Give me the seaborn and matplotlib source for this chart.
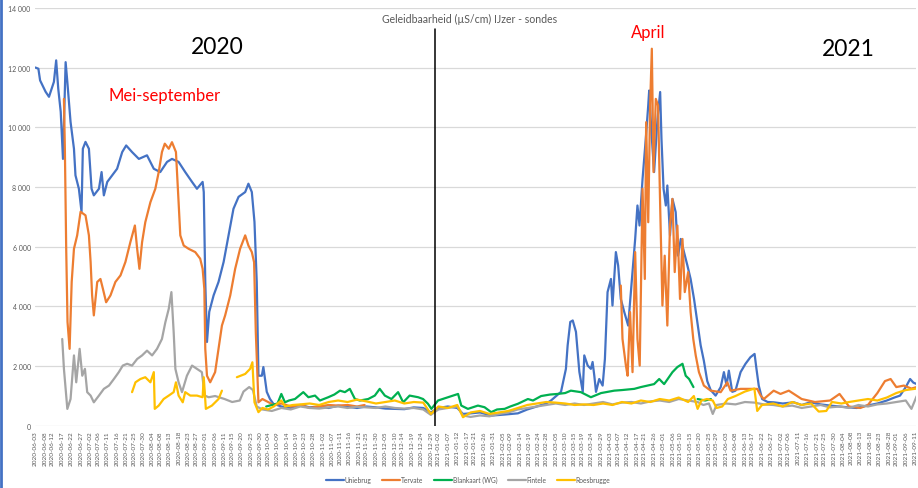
import numpy as np
import pandas as pd
import seaborn as sns
import matplotlib.pyplot as plt
from matplotlib.lines import Line2D

nan = np.nan
START = pd.Timestamp("2020-06-03")
SERIES = ["Uniebrug", "Tervate", "Blankaart (WG)", "Fintele", "Roesbrugge"]
COLORS = ["#4472C4", "#ED7D31", "#00B050", "#A5A5A5", "#FFC000"]

# ---- data (days since 2020-06-03, conductivity µS/cm) ----
uniebrug_days = [0, 1.6, 2.5, 5.4, 7.2, 9.8, 11, 12.1, 13.4, 14.6, 16, 16.9, 18.6, 20.4, 21.2, 23, 24.4, 25.1,
                 26.5, 28.3, 29.7, 30.9, 33.6, 35, 36.2, 38, 40.6, 43.2, 45.9, 48, 51.1, 54.7, 59, 62.6, 66,
                 69.6, 72.2, 75.7, 79.2, 82.8, 85.4, 88.4, 89, 89.8, 90.7, 91.9, 94.2, 96.8, 99.5, 102.1,
                 104.7, 107.4, 110.9, 112.6, 114.4, 115.8, 117, 117.9, 119.7, 120.5, 122.3, 124, 125.8,
                 130, 135, 140, 145, 150, 155, 160, 165, 170, 175, 180, 185, 190, 195, 200, 205, 209, 213,
                 218, 223, 226, 230, 235, 241, 248, 255, 260, 265, 270, 272.5, 277.8, 280.4, 281.3, 282.7,
                 284, 285.7, 287.5, 289.3, 290.1, 291.9, 293.6, 294.5, 295.4, 296.3, 298, 299.8, 301, 302.4,
                 304.2, 305, 306.8, 308, 309.4, 311.2, 313.3, 315.6, 317, 318.2, 319.3, 320.9, 322.6, 323.9,
                 324.4, 325.6, 327, 328.8, 330.2, 330.9, 332, 333.2, 334, 335.4, 336.7, 338.4, 339.7, 341.1,
                 342.8, 344.6, 346.3, 348.1, 349.8, 351.6, 353.3, 355.1, 356.9, 359.5, 362.2, 363.9, 365.3,
                 366.5, 368.3, 370, 372.7, 375.3, 377.9, 380.1, 381.1, 382.3, 384.1, 387, 390.2, 395, 400.8,
                 405, 409.6, 415, 420.1, 425, 428.9, 434, 439.5, 445, 450, 454, 457, 460, 462.3, 464, 465.8]
uniebrug_vals = [12000, 11960, 11570, 11190, 11020, 11520, 12240, 11290, 10520, 8940, 12180, 11520, 10180, 9280,
                 8390, 7940, 7170, 9280, 9510, 9280, 7940, 7720, 7940, 8500, 7720, 8170, 8390, 8610, 9170,
                 9390, 9170, 8940, 9060, 8610, 8500, 8840, 8940, 8840, 8500, 8170, 7940, 8170, 7830, 4820,
                 2810, 3820, 4370, 4820, 5490, 6380, 7270, 7670, 7830, 8110, 7830, 6830, 4820, 1680, 1680,
                 1970, 1140, 900, 740, 650, 600, 700, 620, 650, 600, 680, 640, 600, 650, 620, 580, 570, 560,
                 620, 600, 450, 600, 650, 600, 400, 420, 450, 345, 380, 420, 550, 650, 750, 850, 1140, 1910,
                 2690, 3480, 3530, 3150, 1810, 1140, 2360, 2020, 1910, 2140, 1680, 1140, 1570, 1350, 2240,
                 4480, 4920, 4030, 5820, 5370, 4250, 3820, 3360, 5160, 6260, 7380, 6710, 8270, 9610, 10730,
                 11230, 9840, 8500, 10280, 11180, 9610, 7940, 7380, 8050, 6380, 7600, 7160, 5700, 6260, 5820,
                 5370, 4920, 4250, 3500, 2700, 2180, 1500, 1200, 1015, 1300, 1800, 1350, 1850, 1140, 1180,
                 1800, 2080, 2300, 2410, 1910, 1350, 900, 800, 790, 750, 790, 700, 790, 720, 680, 650, 625,
                 600, 680, 750, 850, 950, 1015, 1300, 1570, 1450, 1400]

tervate_days = [15.1, 15.6, 16.3, 17, 18.1, 19.2, 20.4, 22.1, 23.9, 26.5, 28.3, 29.2, 30, 30.9, 32.7, 34.4, 35.7,
                37.4, 39.7, 42.3, 45, 47.6, 50.2, 52.6, 53.8, 55, 56.4, 58.1, 60.8, 63.4, 65.2, 66.9, 68.4,
                70.5, 72.2, 74.3, 75.7, 76.6, 78.4, 81, 84.5, 87.1, 88.4, 89.3, 89.8, 90.7, 92.4, 95, 96.8,
                98.6, 100.3, 103, 105.6, 108.2, 110.9, 112.6, 114.4, 115.6, 116.5, 117.9, 120, 123, 126, 130,
                135, 140, 145, 150, 155, 160, 165, 170, 174, 200, 309.4, 310.3, 312.1, 313, 314.3, 315.6, 317,
                318.2, 319.4, 320.9, 322.1, 322.8, 323.9, 324.9, 325.8, 326.7, 327.9, 329.1, 330.2, 331.4,
                332.6, 334, 335.4, 336.7, 337.9, 339.3, 340.7, 342, 343.2, 345, 346.3, 347.7, 349, 350.7,
                353.3, 356.9, 362.2, 365.7, 367.4, 372.7, 381.5, 383.3, 385, 390.2, 393.8, 398.2, 405, 412,
                420, 425, 430, 436, 440, 445, 449, 452, 455, 459, 463, 465.8]
tervate_vals = [10950, 9280, 5930, 3480, 2580, 4820, 5930, 6380, 7170, 7050, 6380, 5490, 4370, 3700, 4820, 4920,
                4590, 4140, 4370, 4820, 5040, 5490, 6150, 6710, 5930, 5260, 6150, 6820, 7490, 7940, 8500, 9170,
                9450, 9280, 9500, 9170, 7490, 6380, 6040, 5930, 5820, 5600, 5260, 4590, 2580, 1680, 1460, 1800,
                2580, 3360, 3700, 4370, 5260, 5930, 6380, 6040, 5820, 5480, 3140, 790, 900, 800, 700, 750,
                650, 700, 600, 650, 700, 680, 700, 650, 700, nan, 4700, 2910, 2020, 1680, 3810, 1800, 5820,
                2910, 2020, 7940, 4920, 10170, 6820, 10730, 12630, 8500, 10950, 10730, 7380, 4030, 5700,
                3360, 6710, 7600, 5150, 6710, 4250, 6260, 4480, 5150, 3810, 2910, 2360, 1800, 1350, 1180,
                1130, 1460, 1180, 1240, 1240, 1015, 900, 1180, 1070, 1180, 900, 800, 850, 1070, 650, 600,
                700, 1100, 1500, 1570, 1300, 1350, 1250, 1300]

blankaart_days = [122, 125, 128, 130, 131.9, 134, 137.2, 141.6, 144.3, 147.8, 150.4, 154.8, 158, 161, 163.6,
                  166.2, 168.9, 171.5, 175.9, 179.4, 182, 184.7, 188.2, 191.7, 194.4, 197.8, 202.3, 204.9,
                  207.5, 209.3, 212.8, 218.1, 223.4, 225.1, 228.6, 233.9, 237.4, 240.9, 244, 248, 251, 255,
                  260.3, 263, 267.3, 272, 276, 280, 283, 288.3, 293.6, 299, 305.9, 310, 316.5, 320, 323.5,
                  327, 329.7, 332.3, 336.7, 339.3, 342, 343.7, 345.5, 347.8, 349, 350, 354, 357]
blankaart_vals = [650, 700, 750, 1070, 790, 850, 900, 1130, 960, 1015, 850, 960, 1050, 1180, 1130, 1240, 900,
                  850, 900, 1015, 1240, 1015, 900, 1130, 790, 1015, 960, 900, 740, 570, 850, 960, 1070, 680,
                  570, 680, 625, 460, 550, 570, 650, 740, 900, 850, 1000, 1050, 1070, 1100, 1180, 1130, 960,
                  1100, 1180, 1200, 1240, 1300, 1350, 1400, 1570, 1400, 1800, 1970, 2080, 1680, 1570, 1300,
                  nan, 900, 850, 900]

fintele_days = [14.2, 15.1, 16, 16.9, 18.6, 20.4, 21.6, 23.4, 24.8, 26.2, 27.4, 29.2, 30.9, 33.6, 36.2, 38.9,
                41.5, 44.1, 46.2, 48.5, 51.1, 53.8, 56.4, 59, 61.7, 64.3, 66.9, 68.7, 70.5, 71.9, 73.1, 74,
                75.7, 77.5, 80.1, 82.8, 85.4, 88, 89.5, 91.6, 95, 100, 104, 108, 110, 113, 115, 117, 120, 125,
                130, 135, 140, 145, 150, 155, 160, 165, 170, 175, 180, 185, 190, 195, 200, 205, 209, 213, 218,
                223, 226, 230, 235, 240, 245, 250, 255, 260, 265, 270, 275, 280, 285, 290, 295, 300, 305, 310,
                315, 320, 325, 330, 335, 340, 345, 350, 353, 356, 358, 360, 365, 370, 375, 380, 385, 390, 395,
                400, 405, 410, 415, 420, 425, 430, 435, 440, 445, 450, 455, 460, 463, 465.8]
fintele_vals = [2910, 1910, 1240, 570, 900, 2360, 1460, 2580, 1680, 1910, 1130, 1015, 790, 1015, 1240, 1350,
                1570, 1800, 2020, 2080, 2020, 2240, 2360, 2520, 2360, 2580, 2910, 3470, 3920, 4480, 3140, 1910,
                1460, 1130, 1680, 2020, 1910, 1800, 1015, 960, 1000, 900, 800, 850, 1150, 1300, 1200, 650, 550,
                500, 600, 550, 650, 600, 580, 620, 650, 600, 640, 620, 600, 650, 600, 580, 600, 550, 370, 550,
                600, 650, 350, 300, 350, 320, 400, 450, 550, 600, 650, 700, 750, 700, 750, 700, 750, 800, 720,
                780, 800, 750, 820, 850, 800, 900, 850, 800, 700, 750, 400, 700, 750, 720, 800, 780, 720, 700,
                650, 680, 600, 650, 700, 620, 650, 600, 700, 650, 720, 750, 800, 850, 570, 1000]

roesbrugge_days = [51.1, 52.9, 55.5, 58.1, 60.8, 62.6, 63.1, 65.2, 67.8, 70.5, 73.1, 74.3, 75.7, 77.9, 79.2, 81.9,
                   85.4, 88.4, 89, 90.1, 93.3, 96.8, 98.6, 100, 106.5, 110.9, 113.5, 114.7, 115.8, 117.9, 120,
                   123, 126, 130, 132, 136, 140, 145, 150, 155, 160, 165, 170, 175, 180, 185, 190, 195, 200,
                   205, 209, 213, 218, 223, 226, 230, 235, 240, 245, 250, 255, 260, 265, 270, 275, 280, 285,
                   290, 295, 300, 305, 310, 315, 320, 325, 330, 335, 340, 345, 348, 350, 352, 355, 358, 360,
                   363, 366, 370, 375, 380, 381.5, 384, 390, 395, 400, 405, 410, 414, 418, 421, 426, 430, 435,
                   440, 445, 450, 455, 460, 465.8]
roesbrugge_vals = [1130, 1460, 1570, 1630, 1460, 1800, 570, 680, 900, 1015, 1130, 1460, 1015, 790, 1130, 1015,
                   1015, 960, 1630, 570, 680, 900, 1180, nan, 1630, 1740, 1910, 2130, 790, 460, 600, 550, 650,
                   850, 650, 700, 720, 750, 700, 800, 850, 800, 880, 820, 750, 800, 850, 750, 800, 780, 400,
                   650, 600, 700, 290, 450, 500, 400, 450, 500, 600, 700, 750, 800, 780, 750, 700, 720, 700,
                   750, 700, 800, 750, 850, 800, 900, 850, 950, 800, 1000, 570, 850, 900, 850, 600, 650, 900,
                   1000, 1150, 1250, 500, 700, 750, 650, 800, 700, 750, 480, 500, 800, 750, 800, 850, 900, 850,
                   950, 1100, 1200, 1250]

x_tick_labels = [
    "2020-06-03", "2020-06-08", "2020-06-12", "2020-06-17", "2020-06-22", "2020-06-27", "2020-07-02",
    "2020-07-06", "2020-07-11", "2020-07-16", "2020-07-21", "2020-07-25", "2020-07-30", "2020-08-04",
    "2020-08-08", "2020-08-13", "2020-08-18", "2020-08-23", "2020-08-27", "2020-09-01", "2020-09-06",
    "2020-09-11", "2020-09-15", "2020-09-20", "2020-09-25", "2020-09-30", "2020-10-04", "2020-10-09",
    "2020-10-14", "2020-10-19", "2020-10-23", "2020-10-28", "2020-11-02", "2020-11-07", "2020-11-11",
    "2020-11-16", "2020-11-21", "2020-11-25", "2020-11-30", "2020-12-05", "2020-12-10", "2020-12-14",
    "2020-12-19", "2020-12-24", "2020-12-29", "2021-01-02", "2021-01-07", "2021-01-12", "2021-01-17",
    "2021-01-21", "2021-01-26", "2021-01-31", "2021-02-05", "2021-02-09", "2021-02-14", "2021-02-19",
    "2021-02-24", "2021-02-28", "2021-03-05", "2021-03-10", "2021-03-15", "2021-03-19", "2021-03-24",
    "2021-03-29", "2021-04-03", "2021-04-07", "2021-04-12", "2021-04-17", "2021-04-21", "2021-04-26",
    "2021-05-01", "2021-05-06", "2021-05-10", "2021-05-15", "2021-05-20", "2021-05-25", "2021-05-29",
    "2021-06-03", "2021-06-08", "2021-06-13", "2021-06-17", "2021-06-22", "2021-06-27", "2021-07-02",
    "2021-07-06", "2021-07-11", "2021-07-16", "2021-07-21", "2021-07-25", "2021-07-30", "2021-08-04",
    "2021-08-08", "2021-08-13", "2021-08-18", "2021-08-23", "2021-08-28", "2021-09-01", "2021-09-06",
    "2021-09-11"]
y_ticks = [0, 2000, 4000, 6000, 8000, 10000, 12000, 14000]

TITLE = "Geleidbaarheid (µS/cm) IJzer - sondes"


def frame(name, days, vals):
    vals = np.asarray(vals, dtype=float)
    seg = np.cumsum(np.isnan(vals))
    df = pd.DataFrame({"date": START + pd.to_timedelta(np.asarray(days, dtype=float), unit="D"),
                       "value": vals, "seg": seg, "series": name})
    return df.dropna()


data = pd.concat([
    frame("Uniebrug", uniebrug_days, uniebrug_vals),
    frame("Tervate", tervate_days, tervate_vals),
    frame("Blankaart (WG)", blankaart_days, blankaart_vals),
    frame("Fintele", fintele_days, fintele_vals),
    frame("Roesbrugge", roesbrugge_days, roesbrugge_vals),
], ignore_index=True)

sns.set_style("white")
plt.rcParams["font.family"] = ["Lato", "DejaVu Sans"]

fig = plt.figure(figsize=(9.18, 4.89), dpi=100)
ax = fig.add_axes([0.038, 0.127, 0.960, 0.855])

sns.lineplot(data=data, x="date", y="value", hue="series", units="seg", estimator=None,
             hue_order=SERIES, palette=COLORS, linewidth=1.6, sort=False, ax=ax, legend=True)

GRAY = "#595959"
ax.set_ylim(0, 14000)
ax.set_xlim(START - pd.Timedelta(hours=6), pd.Timestamp("2021-09-11 12:00"))
ax.set_yticks(y_ticks)
ax.set_yticklabels([f"{v:,}".replace(",", " ") for v in y_ticks], fontsize=5, color=GRAY)
ticks = pd.to_datetime(x_tick_labels)
ax.set_xticks(ticks)
ax.set_xticklabels(x_tick_labels, rotation=90, fontsize=4.6, color=GRAY)
ax.tick_params(axis="both", length=0, pad=3)
ax.yaxis.grid(True, color="#D9D9D9", linewidth=0.9)
ax.set_axisbelow(True)
for s in ax.spines.values():
    s.set_visible(False)
ax.set_xlabel("")
ax.set_ylabel("")

# separator between years
sep = pd.Timestamp("2020-12-31 06:00")
ax.plot([sep, sep], [0, 13300], color="black", linewidth=1.1, zorder=5)

ax.text(START + pd.Timedelta(days=229.6), 13640, TITLE, ha="center", va="center", fontsize=7.6, color=GRAY)
ax.text(START + pd.Timedelta(days=96), 12690, "2020", ha="center", va="center", fontsize=16.5, color="black")
ax.text(START + pd.Timedelta(days=429.5), 12630, "2021", ha="center", va="center", fontsize=16.5, color="black")
ax.text(START + pd.Timedelta(days=68.4), 11090, "Mei-september", ha="center", va="center", fontsize=12,
        color="#FF0000")
ax.text(START + pd.Timedelta(days=324), 13200, "April", ha="center", va="center", fontsize=12, color="#FF0000")

handles, labels = ax.get_legend_handles_labels()
ax.get_legend().remove()
fig.legend(handles, labels, loc="center", bbox_to_anchor=(0.51, 0.017), ncol=5, frameon=False,
           fontsize=4.8, handlelength=2.7, columnspacing=1.6, handletextpad=0.1, labelcolor=GRAY)

fig.add_artist(Line2D([0.001, 0.001], [0, 1], color="#4472C4", linewidth=2, transform=fig.transFigure))

fig.savefig("out.png", dpi=100)
